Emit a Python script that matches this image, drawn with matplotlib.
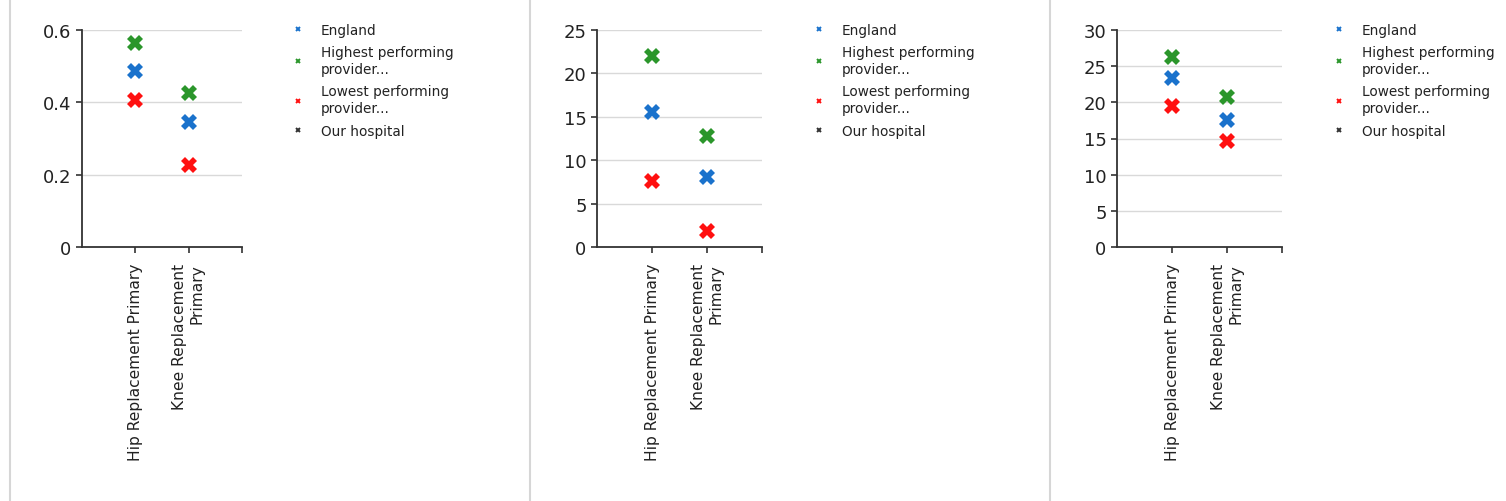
import matplotlib
matplotlib.use("Agg")
import matplotlib.pyplot as plt
from matplotlib.lines import Line2D

# Procedures shown on every panel
categories = ["Hip Replacement Primary", "Knee Replacement\nPrimary"]

# Series labels
series_names = ["England", "Highest performing\nprovider...",
                "Lowest performing\nprovider...", "Our hospital"]

# Panel 1
p1_england = [0.488, 0.345]
p1_highest = [0.565, 0.425]
p1_lowest = [0.406, 0.228]
p1_ours = []
p1_ticks = [0, 0.2, 0.4, 0.6]
p1_ticklabels = ["0", "0.2", "0.4", "0.6"]

# Panel 2
p2_england = [15.5, 8.1]
p2_highest = [22.0, 12.8]
p2_lowest = [7.6, 1.9]
p2_ours = []
p2_ticks = [0, 5, 10, 15, 20, 25]
p2_ticklabels = ["0", "5", "10", "15", "20", "25"]

# Panel 3
p3_england = [23.3, 17.6]
p3_highest = [26.2, 20.7]
p3_lowest = [19.5, 14.6]
p3_ours = []
p3_ticks = [0, 5, 10, 15, 20, 25, 30]
p3_ticklabels = ["0", "5", "10", "15", "20", "25", "30"]

colors = ["#1a72cc", "#2b962b", "#ff1010", "#333333"]

W, H = 1506, 502
fig = plt.figure(figsize=(W / 100, H / 100), dpi=100)
fig.patch.set_facecolor("white")

# pixel geometry of each panel: (axis left, axis right, legend anchor x)
panels = [
    (82, 242, 291, p1_england, p1_highest, p1_lowest, p1_ours, p1_ticks, p1_ticklabels),
    (597, 762, 812, p2_england, p2_highest, p2_lowest, p2_ours, p2_ticks, p2_ticklabels),
    (1117, 1282, 1332, p3_england, p3_highest, p3_lowest, p3_ours, p3_ticks, p3_ticklabels),
]
top_px, bottom_px = 31, 248
text_color = "#222222"

for left, right, leg_x, eng, hi, lo, ours, ticks, ticklabels in panels:
    ax = fig.add_axes([left / W, 1 - bottom_px / H, (right - left) / W,
                       (bottom_px - top_px) / H])
    xs = list(range(1, len(categories) + 1))
    handles = []
    for vals, col, name in zip([eng, hi, lo, ours], colors, series_names):
        ax.plot(xs[:len(vals)], vals, linestyle="none", marker="X",
                markersize=11.5, color=col, markeredgewidth=0, zorder=3)
        handles.append(Line2D([], [], linestyle="none", marker="x",
                              markersize=3.2, markeredgewidth=1.4,
                              color=col, label=name))
    ax.set_xlim(0, len(categories) + 1)
    ax.set_ylim(ticks[0], ticks[-1])
    ax.set_xticks(xs + [len(categories) + 1])
    ax.set_xticklabels(categories + [""], rotation=90, ha="center", va="top",
                       multialignment="right", fontsize=11.2, color=text_color)
    ax.set_yticks(ticks)
    ax.set_yticklabels(ticklabels, fontsize=13, color=text_color)
    ax.tick_params(axis="y", length=4, width=1.2, pad=3.5, color="#333333")
    ax.tick_params(axis="x", length=4, width=1.2, pad=7.5, color="#333333")
    ax.grid(axis="y", color="#d9d9d9", linewidth=1)
    ax.set_axisbelow(True)
    for s in ["top", "right"]:
        ax.spines[s].set_visible(False)
    for s in ["left", "bottom"]:
        ax.spines[s].set_color("#333333")
        ax.spines[s].set_linewidth(1.3)
    leg = ax.legend(handles=handles, loc="upper left",
                    bbox_to_anchor=(leg_x / W, 1 - 24 / H),
                    bbox_transform=fig.transFigure,
                    frameon=False, fontsize=9.8, borderpad=0, borderaxespad=0,
                    handlelength=1.0, handletextpad=1.2, labelspacing=0.6,
                    labelcolor=text_color)
    for t in leg.get_texts():
        t.set_linespacing(1.28)

# panel separators
for x in [10, 530, 1050]:
    fig.add_artist(Line2D([x / W, x / W], [0, 1], transform=fig.transFigure,
                          color="#d6d6d6", linewidth=1.5))

fig.savefig("out.png", dpi=100, facecolor="white")
